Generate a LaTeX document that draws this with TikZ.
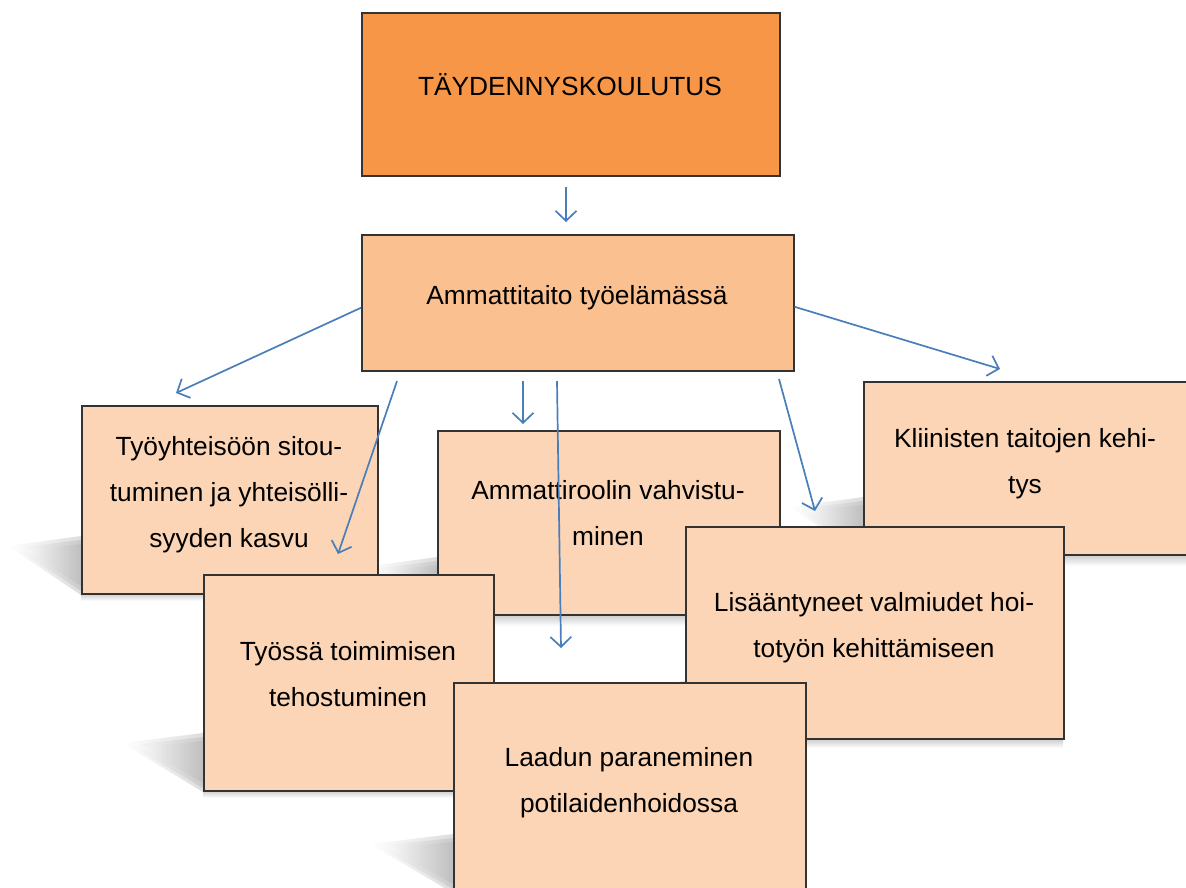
\documentclass[tikz,border=0pt]{standalone}
\usepackage{fontspec}
\setmainfont{Liberation Sans}
\usetikzlibrary{arrows.meta}
\definecolor{darkor}{HTML}{F79646}
\definecolor{midor}{HTML}{FAC090}
\definecolor{lightor}{HTML}{FBD5B5}
\definecolor{arrblue}{HTML}{4A7EBB}
\tikzset{
  boxnode/.style={draw=black!80, line width=1.5pt, rectangle, inner sep=0pt, anchor=north west},
  txt/.style={font=\fontsize{26.3}{46}\selectfont, align=center, anchor=base, inner sep=0pt},
  conn/.style={draw=arrblue, line width=1.7pt, -{Straight Barb[length=10pt,width=21pt]}},
  wedge/.style={left color=white, right color=black!30, draw=none, opacity=0.45},
  undershadow/.style={top color=black!22, bottom color=white, draw=none}
}
\newcommand{\softwedge}[3]{% #1 = tip x, #2 = box left x, #3 = box bottom y
  \shade[wedge] (#1,#3-48) -- (#2,#3-58) -- (#2,#3+1) -- cycle;
  \shade[wedge] (#1+8,#3-46) -- (#2,#3-54) -- (#2,#3-3) -- cycle;
  \shade[wedge] (#1+18,#3-44) -- (#2,#3-50) -- (#2,#3-8) -- cycle;
}
\begin{document}
\begin{tikzpicture}[x=1pt,y=-1pt]
\useasboundingbox (0,0) rectangle (1186,887);
% perspective shadows (behind all boxes)
\softwedge{8}{81}{594}
\softwedge{122}{203}{791}
\softwedge{370}{453}{892}
\softwedge{790}{863}{555}
\softwedge{365}{437}{615}
\softwedge{612}{685}{739}
% soft shadows under bottom edges
\shade[undershadow] (81,593) rectangle (377,601);
\shade[undershadow] (437,614) rectangle (779,626);
\shade[undershadow] (863,554) rectangle (1190,566);
\shade[undershadow] (685,738) rectangle (1063,748);
\shade[undershadow] (203,790) rectangle (493,798);
% boxes
\node[boxnode, fill=darkor, minimum width=418pt, minimum height=163pt] (tay) at (361,12) {};
\node[boxnode, fill=midor, minimum width=432pt, minimum height=136pt] (amm) at (361,234) {};
\node[boxnode, fill=lightor, minimum width=296pt, minimum height=188pt] (yht) at (81,405) {};
\node[boxnode, fill=lightor, minimum width=342pt, minimum height=184pt] (rol) at (437,430) {};
\node[boxnode, fill=lightor, minimum width=330pt, minimum height=173pt] (kli) at (863,381) {};
\node[boxnode, fill=lightor, minimum width=290pt, minimum height=216pt] (tyo) at (203,574) {};
\node[boxnode, fill=lightor, minimum width=378pt, minimum height=212pt] (lis) at (685,526) {};
\node[boxnode, fill=lightor, minimum width=352pt, minimum height=215pt] (laa) at (453,682) {};
% texts (anchor base = baseline of the last line)
\node[txt] (tayT) at (570,95) {TÄYDENNYSKOULUTUS};
\node[txt] (ammT) at (577,304) {Ammattitaito työelämässä};
\node[txt] (yhtT) at (229,547) {Työyhteisöön sitou-\\tuminen ja yhteisölli-\\syyden kasvu};
\node[txt] (rolT) at (608,545) {Ammattiroolin vahvistu-\\minen};
\node[txt] (kliT) at (1025,493) {Kliinisten taitojen kehi-\\tys};
\node[txt] (tyoT) at (348,706) {Työssä toimimisen\\tehostuminen};
\node[txt] (lisT) at (874,657) {Lisääntyneet valmiudet hoi-\\totyön kehittämiseen};
\node[txt] (laaT) at (629,812) {Laadun paraneminen\\potilaidenhoidossa};
% connector end points
\coordinate (a0s) at (566,187);
\coordinate (a0e) at (566,222);
\coordinate (a1e) at (176,393);
\coordinate (a2s) at (397,381);
\coordinate (a2e) at (338,554);
\coordinate (a3s) at (523,381);
\coordinate (a3e) at (523,424);
\coordinate (a4s) at (557,381);
\coordinate (a4e) at (561,648);
\coordinate (a5s) at (779,379);
\coordinate (a5e) at (815,511);
\coordinate (a6e) at (1000,369);
% connectors
\draw[conn] (a0s) -- (a0e);
\draw[conn] ([yshift=-5pt]amm.west) -- (a1e);
\draw[conn] (a2s) -- (a2e);
\draw[conn] (a3s) -- (a3e);
\draw[conn] (a4s) -- (a4e);
\draw[conn] (a5s) -- (a5e);
\draw[conn] ([yshift=-4pt]amm.east) -- (a6e);
\end{tikzpicture}
\end{document}
